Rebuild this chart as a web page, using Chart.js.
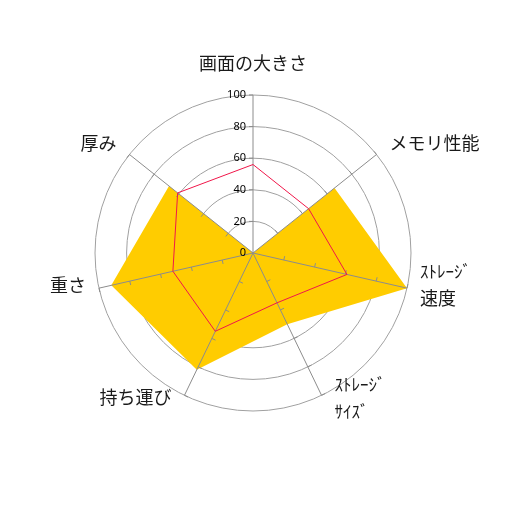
<!DOCTYPE html>
<html>
<head>
<meta charset="utf-8">
<script src="https://cdn.jsdelivr.net/npm/chart.js@4/dist/chart.umd.min.js"></script>
<style>
html,body{margin:0;padding:0;background:#fff;}
#wrap{width:506px;height:506px;}
</style>
</head>
<body>
<div id="wrap"><canvas id="c" width="506" height="506"></canvas></div>
<script>
const categories = ["画面の大きさ", "メモリ性能", ["ｽﾄﾚｰｼﾞ", "速度"], ["ｽﾄﾚｰｼﾞ", "ｻｲｽﾞ"], "持ち運び", "重さ", "厚み"];
const seriesRed = [56, 45, 61, 35, 55, 52, 61];
const seriesYellow = [0, 66, 100, 50, 82, 92, 68];
const tickValues = [0, 20, 40, 60, 80, 100];

const FONT_FAMILY = '"Noto Sans CJK JP", "Noto Sans", sans-serif';
const TICK_FONT = '11px "Noto Sans", "DejaVu Sans", sans-serif';
const AXIS_COLOR = '#8c8c8c';

function isHalfWidth(t) { return /^[\uFF61-\uFF9F]+$/.test(t); }

const overlay = {
  id: 'overlay',
  afterDatasetDraw(chart, args) {
    if (args.index !== 1) return; // after yellow fill, before red line
    const s = chart.scales.r;
    const ctx = chart.ctx;
    const n = categories.length;
    const R = s.drawingArea;
    ctx.save();
    ctx.strokeStyle = AXIS_COLOR;
    ctx.lineWidth = 1;
    for (let i = 0; i < n; i++) {
      const end = s.getPointPosition(i, R);
      ctx.beginPath();
      ctx.moveTo(s.xCenter, s.yCenter);
      ctx.lineTo(end.x, end.y);
      ctx.stroke();
      const a = s.getIndexAngle(i);
      const px = -Math.cos(a), py = -Math.sin(a);
      for (const v of tickValues) {
        if (v === 0) continue;
        const p = s.getPointPosition(i, s.getDistanceFromCenterForValue(v));
        ctx.beginPath();
        ctx.moveTo(p.x, p.y);
        ctx.lineTo(p.x + px * 4, p.y + py * 4);
        ctx.stroke();
      }
    }
    ctx.restore();
  },
  afterDraw(chart) {
    const s = chart.scales.r;
    const ctx = chart.ctx;
    const R = s.drawingArea;
    ctx.save();
    ctx.font = TICK_FONT;
    ctx.fillStyle = '#000';
    ctx.textAlign = 'right';
    ctx.textBaseline = 'middle';
    for (const v of tickValues) {
      const p = s.getPointPosition(0, s.getDistanceFromCenterForValue(v));
      ctx.fillText(String(v), p.x - 7, p.y);
    }
    ctx.fillStyle = '#1a1a1a';
    const lh = 27;
    categories.forEach((lab, i) => {
      const a = s.getIndexAngle(i);
      const sn = Math.sin(a), cs = Math.cos(a);
      const lines = Array.isArray(lab) ? lab : [lab];
      const end = s.getPointPosition(i, R);
      let x, y, align;
      if (Math.abs(sn) < 0.1) {
        const p = s.getPointPosition(i, R + 32);
        x = p.x; y = p.y; align = 'center';
      } else {
        x = end.x + (sn > 0 ? 13 : -13);
        y = end.y + (cs > 0 ? -11 : -5 - 8 * cs);
        align = sn > 0 ? 'left' : 'right';
      }
      ctx.textAlign = align;
      ctx.textBaseline = 'middle';
      const y0 = y - (lines.length - 1) * lh / 2;
      lines.forEach((t, k) => {
        ctx.font = (isHalfWidth(t) ? '17px ' : '18px ') + FONT_FAMILY;
        ctx.fillText(t, x, y0 + k * lh);
      });
    });
    ctx.restore();
  }
};

new Chart(document.getElementById('c'), {
  type: 'radar',
  data: {
    labels: categories,
    datasets: [
      {
        label: 'B',
        data: seriesRed,
        borderColor: '#f0174a',
        borderWidth: 1,
        fill: false,
        pointRadius: 0,
        order: 1
      },
      {
        label: 'A',
        data: seriesYellow,
        backgroundColor: '#ffcc00',
        borderColor: '#ffcc00',
        borderWidth: 0,
        fill: true,
        pointRadius: 0,
        order: 2
      }
    ]
  },
  options: {
    responsive: false,
    animation: false,
    devicePixelRatio: 1,
    layout: { padding: 95 },
    plugins: { legend: { display: false }, tooltip: { enabled: false } },
    elements: { line: { tension: 0 } },
    scales: {
      r: {
        min: 0,
        max: 100,
        ticks: { display: false, stepSize: 20 },
        grid: { color: '#a0a0a0', lineWidth: 1, circular: true },
        angleLines: { display: false },
        pointLabels: { display: false }
      }
    }
  },
  plugins: [overlay]
});
</script>
</body>
</html>
